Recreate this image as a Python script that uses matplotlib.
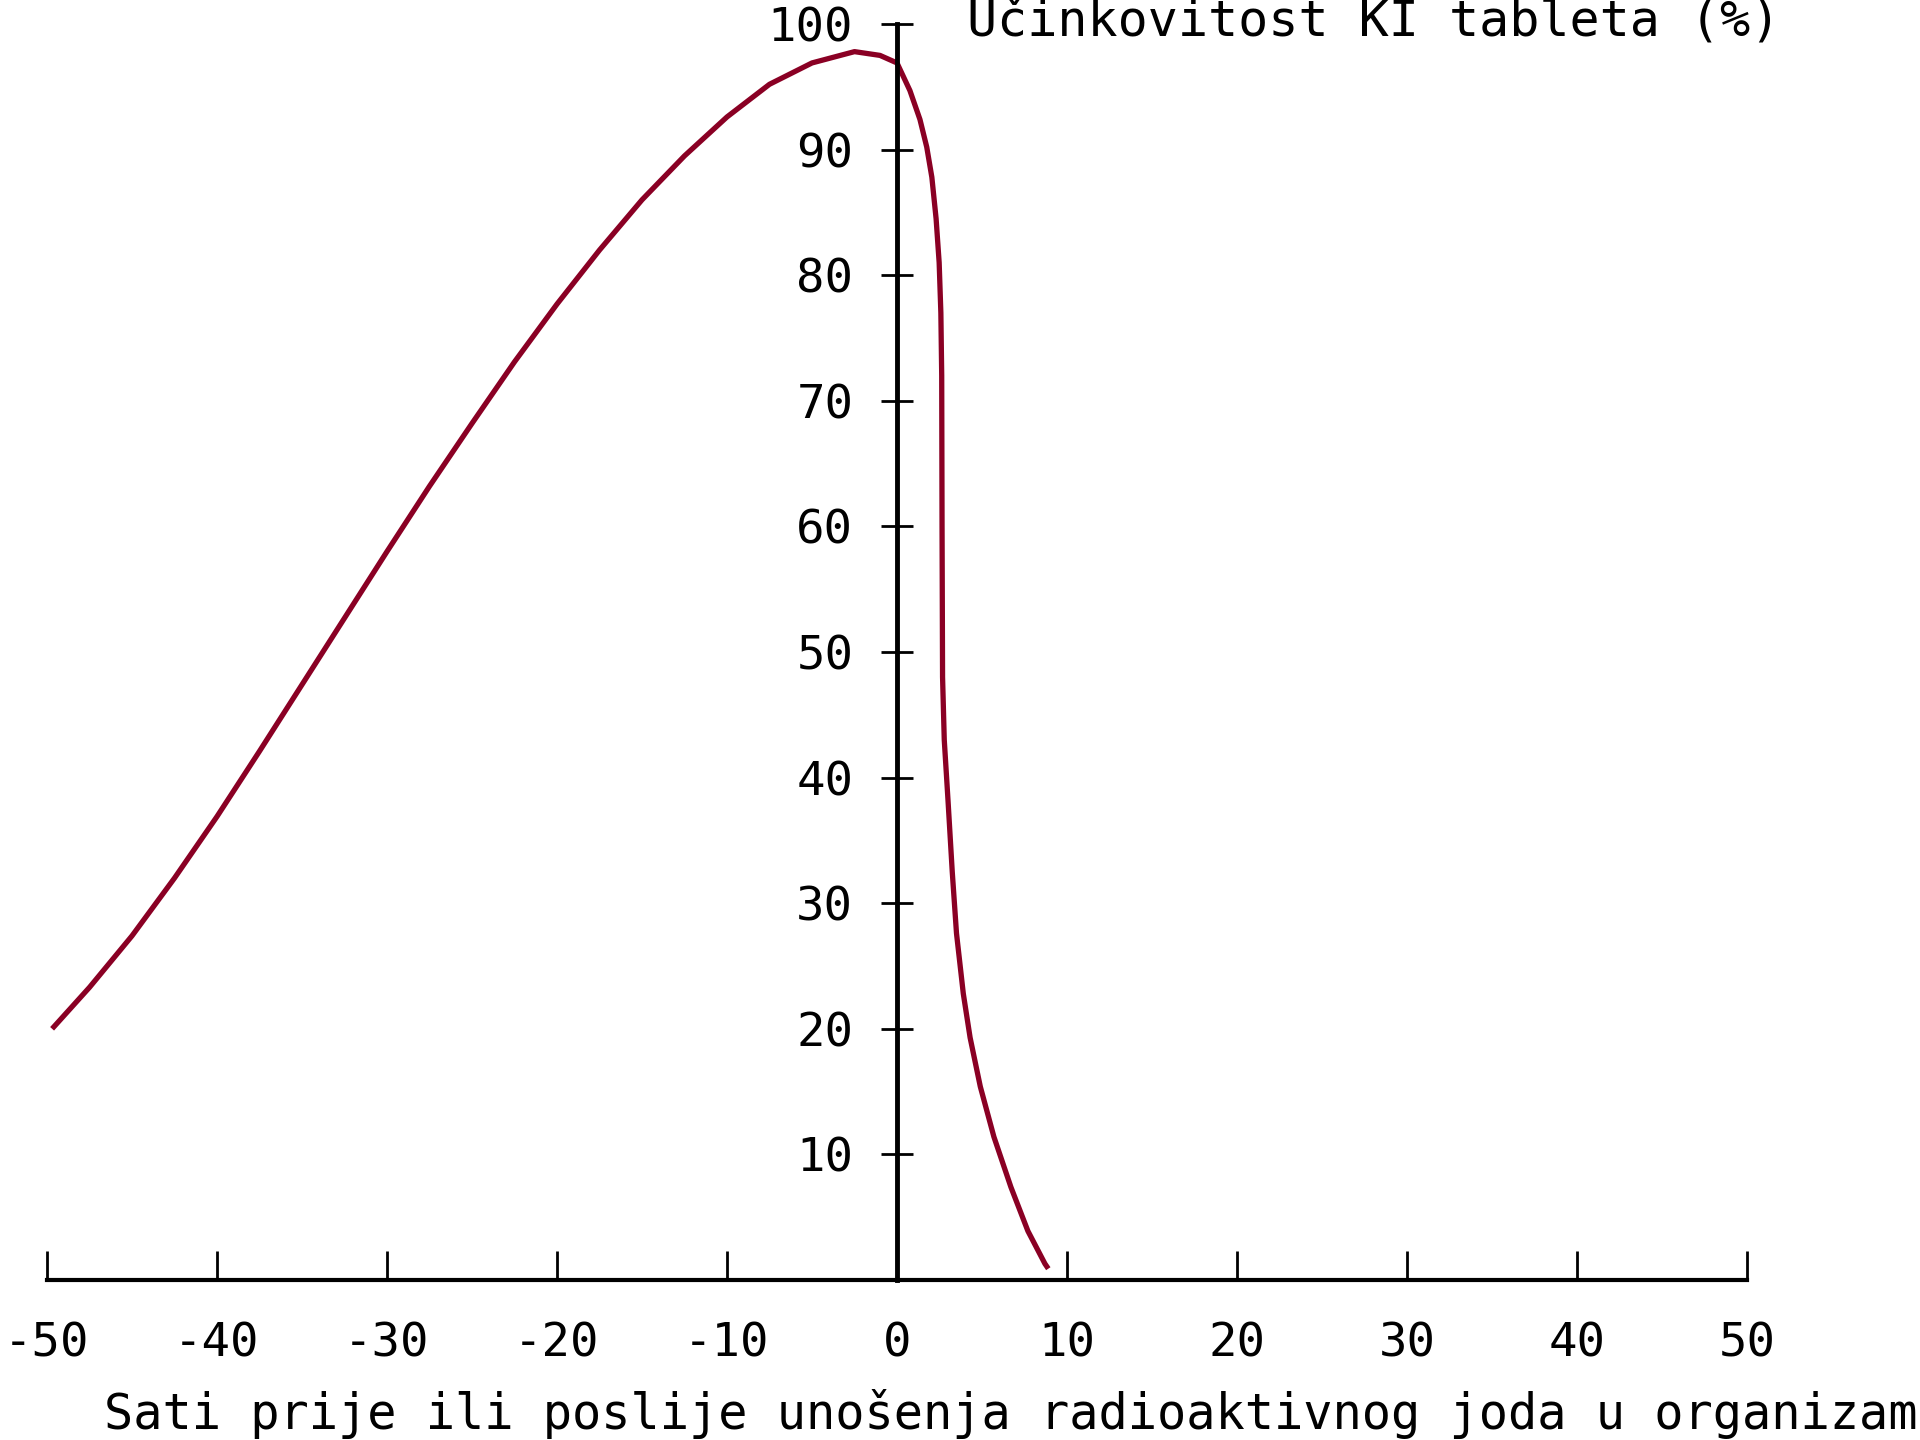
import matplotlib
matplotlib.use("Agg")
import matplotlib.pyplot as plt

plt.rcParams['axes.unicode_minus'] = False  # obicni minus kao na originalu
plt.rcParams['font.family'] = ['DejaVu Sans Mono', 'DejaVu Sans']

# ocitano sa slike: sati (x) i ucinkovitost KI tableta u % (y)
sati = [-49.7, -47.5, -45.0, -42.5, -40.0, -37.5, -35.0, -32.5, -30.0, -27.5,
        -25.0, -22.5, -20.0, -17.5, -15.0, -12.5, -10.0, -7.5, -5.0, -2.5,
        -1.0, 0.0, 0.76, 1.35, 1.75, 2.05, 2.3, 2.48, 2.58, 2.63,
        2.65, 2.68, 2.78, 3.0, 3.25, 3.5, 3.9, 4.3, 4.9, 5.7,
        6.7, 7.7, 8.7, 8.9]
ucinak = [20.0, 23.3, 27.4, 32.0, 36.9, 42.1, 47.4, 52.7, 58.0, 63.2,
          68.2, 73.1, 77.7, 82.0, 86.0, 89.5, 92.6, 95.2, 96.9, 97.8,
          97.5, 96.9, 94.7, 92.4, 90.2, 87.8, 84.5, 81.0, 77.0, 72.0,
          60.0, 48.0, 43.0, 38.2, 32.5, 27.6, 22.8, 19.3, 15.4, 11.4,
          7.4, 3.9, 1.3, 0.9]

x_ticks = [-50, -40, -30, -20, -10, 0, 10, 20, 30, 40, 50]
y_ticks = [10, 20, 30, 40, 50, 60, 70, 80, 90, 100]

naslov_y = "Učinkovitost KI tableta (%)"
naslov_x = "Sati prije ili poslije unošenja radioaktivnog joda u organizam"

fig = plt.figure(figsize=(19.2, 14.4), dpi=100)
ax = fig.add_axes([47 / 1920, 1 - 1280 / 1440, 1700 / 1920, (1280 - 24) / 1440])

ax.plot(sati, ucinak, color='#8a0024', linewidth=3.8,
        solid_joinstyle='round', solid_capstyle='butt')

ax.set_xlim(-50, 50)
ax.set_ylim(0, 100)

# osi kroz ishodiste
ax.spines['left'].set_position(('data', 0))
ax.spines['bottom'].set_position(('data', 0))
ax.spines['top'].set_visible(False)
ax.spines['right'].set_visible(False)
ax.spines['left'].set_linewidth(3.5)
ax.spines['bottom'].set_linewidth(3)

ax.set_xticks(x_ticks)
ax.set_yticks(y_ticks)
ax.tick_params(axis='x', direction='in', length=21, width=2, pad=30, labelsize=34)
ax.tick_params(axis='y', direction='inout', length=23, width=2, pad=20, labelsize=34)

fig.text(967 / 1920, 1 - 22 / 1440, naslov_y, fontsize=36, ha='left', va='center')
fig.text(104 / 1920, 1 - 1414 / 1440, naslov_x, fontsize=35, ha='left', va='center')

plt.savefig('out.png', dpi=100)
